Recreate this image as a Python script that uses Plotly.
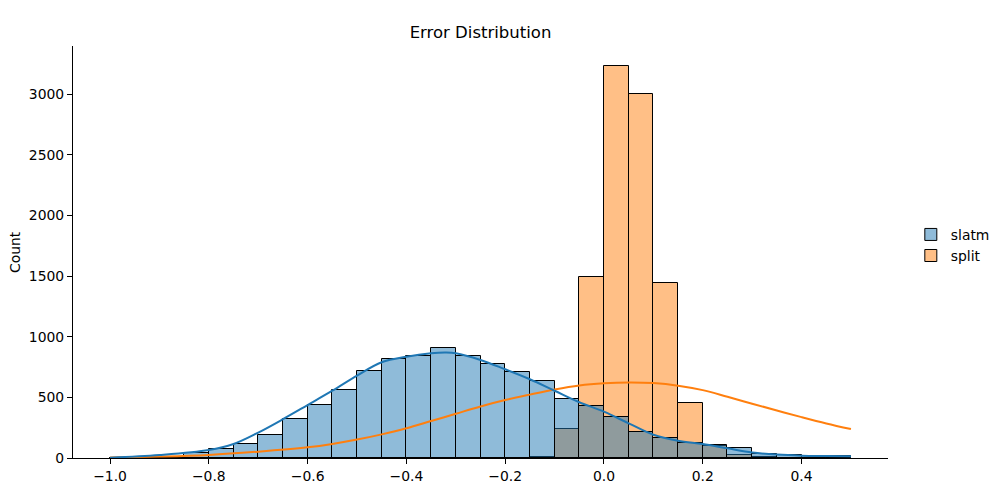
import plotly.graph_objects as go

# ---- data ----
bin_starts = [round(-1.0 + 0.05 * i, 2) for i in range(30)]
bin_width = 0.05

slatm_counts = [2, 5, 12, 40, 74, 113, 187, 320, 435, 559,
                716, 815, 840, 906, 840, 776, 708, 634, 485, 430,
                336, 217, 163, 121, 105, 80, 30, 22, 16, 14]
split_counts = [0, 0, 0, 0, 0, 0, 0, 0, 0, 0,
                0, 0, 0, 0, 0, 0, 0, 8, 238, 1492,
                3237, 3005, 1442, 451, 100, 22, 6, 3, 2, 1]

kde_slatm_x = [-1.0, -0.9, -0.8, -0.75, -0.7, -0.65, -0.6, -0.55, -0.5, -0.45,
               -0.4, -0.35, -0.32, -0.3, -0.25, -0.2, -0.15, -0.1, -0.05, 0.0,
               0.05, 0.1, 0.15, 0.2, 0.25, 0.3, 0.35, 0.4, 0.45, 0.5]
kde_slatm_y = [3, 25, 66, 116, 210, 320, 437, 555, 680, 790,
               836, 864, 870, 864, 809, 732, 650, 555, 460, 382,
               286, 192, 142, 115, 80, 46, 28, 19, 16, 14]

kde_split_x = [-1.0, -0.9, -0.8, -0.7, -0.6, -0.55, -0.5, -0.45, -0.4, -0.35,
               -0.3, -0.25, -0.2, -0.15, -0.1, -0.05, 0.0, 0.05, 0.1, 0.15,
               0.2, 0.25, 0.3, 0.35, 0.4, 0.45, 0.5]
kde_split_y = [5, 12, 25, 52, 88, 116, 152, 195, 245, 305,
               365, 425, 478, 523, 565, 598, 616, 623, 618, 597,
               560, 505, 448, 392, 337, 285, 239]

x_ticks = [-1.0, -0.8, -0.6, -0.4, -0.2, 0.0, 0.2, 0.4]
y_ticks = [0, 500, 1000, 1500, 2000, 2500, 3000]

# ---- figure ----
centers = [b + bin_width / 2 for b in bin_starts]
font_family = "DejaVu Sans"

fig = go.Figure()
fig.add_trace(go.Bar(
    x=centers, y=split_counts, width=bin_width, name="split",
    marker=dict(color="rgba(255,127,14,0.5)", line=dict(color="black", width=1)),
    legendrank=2, hoverinfo="x+y"))
fig.add_trace(go.Bar(
    x=centers, y=slatm_counts, width=bin_width, name="slatm",
    marker=dict(color="rgba(31,119,180,0.5)", line=dict(color="black", width=1)),
    legendrank=1, hoverinfo="x+y"))
fig.add_trace(go.Scatter(
    x=kde_split_x, y=kde_split_y, mode="lines", showlegend=False,
    line=dict(color="#ff7f0e", width=2, shape="spline", smoothing=1.0)))
fig.add_trace(go.Scatter(
    x=kde_slatm_x, y=kde_slatm_y, mode="lines", showlegend=False,
    line=dict(color="#1f77b4", width=2, shape="spline", smoothing=1.0)))

def fmt(v):
    s = f"{v:.1f}"
    return s.replace("-", "\u2212")

fig.update_layout(
    width=999, height=484,
    margin=dict(l=73, r=111, t=46, b=26, autoexpand=False),
    paper_bgcolor="white", plot_bgcolor="white",
    barmode="overlay", bargap=0,
    font=dict(family=font_family, size=13.9, color="black"),
    title=dict(text="Error Distribution", x=0.5, xref="paper",
               y=1 - 32 / 484, yref="container", yanchor="middle",
               xanchor="center", font=dict(size=16.5, family=font_family)),
    legend=dict(x=1.028, xanchor="left", y=0.516, yanchor="middle",
                bgcolor="rgba(0,0,0,0)", font=dict(size=13.9),
                tracegroupgap=2),
    showlegend=True,
)
fig.update_xaxes(range=[-1.075, 0.575], showgrid=False, zeroline=False,
                 automargin=False,
                 showline=True, linecolor="black", linewidth=1.1,
                 ticks="outside", ticklen=5, tickwidth=1.1, tickcolor="black",
                 tickvals=x_ticks, ticktext=[fmt(v) for v in x_ticks])
fig.update_yaxes(range=[0, 3399], showgrid=False, zeroline=False,
                 automargin=False,
                 showline=True, linecolor="black", linewidth=1.1,
                 ticks="outside", ticklen=5, tickwidth=1.1, tickcolor="black",
                 tickvals=y_ticks, ticktext=[str(v) for v in y_ticks])
fig.add_annotation(text="Count", textangle=-90, xref="paper", yref="paper",
                   x=(15 - 73) / 815, y=0.5, xanchor="center", yanchor="middle",
                   showarrow=False, font=dict(size=13.9, family=font_family))

fig.write_html("out.html")
